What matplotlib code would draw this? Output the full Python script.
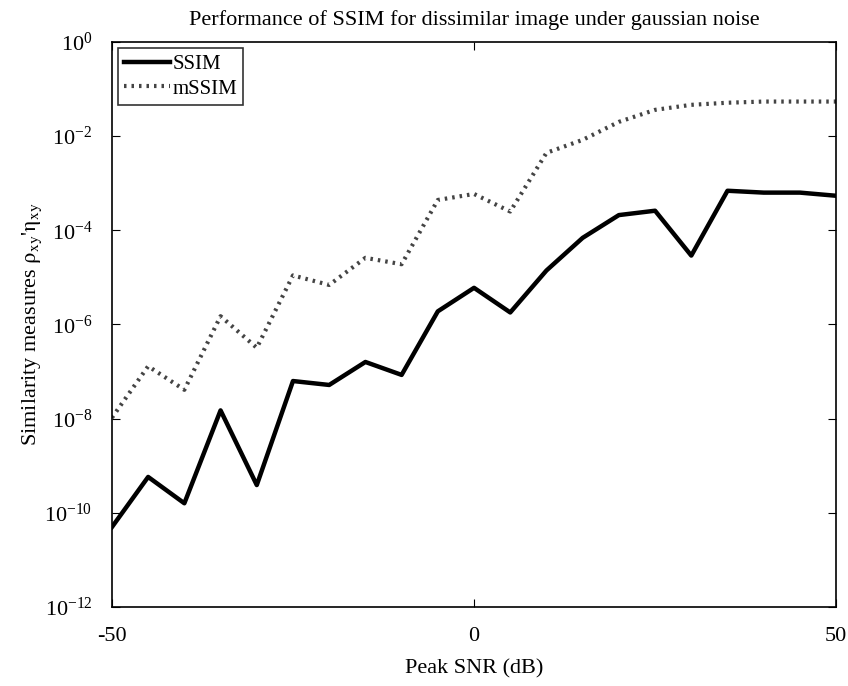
import matplotlib
matplotlib.use("Agg")
import matplotlib.pyplot as plt
import numpy as np

plt.rcParams['font.family'] = ['Liberation Serif', 'DejaVu Serif']
plt.rcParams['mathtext.fontset'] = 'stix'
plt.rcParams['axes.unicode_minus'] = False

snr_db = [-50, -45, -40, -35, -30, -25, -20, -15, -10, -5, 0, 5, 10, 15, 20, 25, 30, 35, 40, 45, 50]
ssim = [5e-11, 5.8e-10, 1.6e-10, 1.5e-8, 3.9e-10, 6.3e-8, 5.2e-8, 1.6e-7, 8.5e-8, 1.9e-6, 6e-6,
        1.8e-6, 1.4e-5, 6.9e-5, 2.1e-4, 2.6e-4, 2.9e-5, 6.9e-4, 6.3e-4, 6.3e-4, 5.4e-4]
mssim = [1.05e-8, 1.3e-7, 4.1e-8, 1.5e-6, 3.2e-7, 1.1e-5, 6.9e-6, 2.6e-5, 1.9e-5, 4.4e-4, 5.9e-4,
         2.5e-4, 4.4e-3, 8.3e-3, 2e-2, 3.6e-2, 4.6e-2, 5.1e-2, 5.4e-2, 5.4e-2, 5.4e-2]

fig = plt.figure(figsize=(8.48, 6.86), dpi=100)
ax = fig.add_axes([0.132, 0.115, 0.854, 0.824])
ax.plot(snr_db, ssim, color='black', lw=3.2, label='SSIM')
ax.plot(snr_db, mssim, color='#444444', lw=3.0, linestyle=(0, (0.6, 1.2)), label='mSSIM')
ax.set_yscale('log')
ax.set_xlim(-50, 50)
ax.set_ylim(1e-12, 1e0)
ax.set_xticks([-50, 0, 50])
ax.set_yticks([10.0**k for k in range(-12, 1, 2)])
ax.yaxis.set_minor_locator(matplotlib.ticker.NullLocator())
ax.tick_params(direction='in', top=True, right=True, labelsize=16, length=6)
ax.tick_params(axis='y', pad=14)
ax.tick_params(axis='x', pad=14)
for s in ax.spines.values():
    s.set_linewidth(1.2)
ax.set_title('Performance of SSIM for dissimilar image under gaussian noise', fontsize=16, pad=12)
ax.set_xlabel('Peak SNR (dB)', fontsize=16, labelpad=10)
ax.set_ylabel(r"Similarity measures $\mathrm{\rho_{xy}}$'$\mathrm{\eta_{xy}}$", fontsize=16, labelpad=0)
leg = ax.legend(loc='upper left', fontsize=15, frameon=True, fancybox=False, edgecolor='black',
                handlelength=2.2, handletextpad=0.1, borderpad=0.3, labelspacing=0.25,
                borderaxespad=0.3)
leg.get_frame().set_linewidth(1.2)
fig.savefig('out.png', dpi=100)
